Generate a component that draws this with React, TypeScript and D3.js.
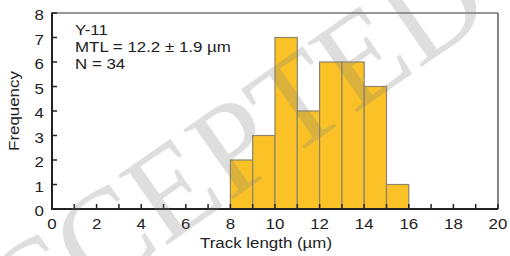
import React from "react";
import * as d3 from "d3";

const binStarts = [8, 9, 10, 11, 12, 13, 14, 15];
const counts = [2, 3, 7, 4, 6, 6, 5, 1];
const xMajorTicks = [0, 2, 4, 6, 8, 10, 12, 14, 16, 18, 20];
const xMinorTicks = d3.range(0, 21, 1);
const yTicks = [0, 1, 2, 3, 4, 5, 6, 7, 8];
const infoLines = ["Y-11", "MTL = 12.2 ± 1.9 µm", "N = 34"];

const W = 510;
const H = 256;
const margin = { top: 13, right: 12, bottom: 47, left: 52 };
const font = "'Liberation Sans', Arial, sans-serif";
const sx = 1.09; // the figure's text is a little stretched sideways

// text placed at (x, y) and stretched horizontally
const Label = ({ x, y, anchor = "start", rotate = 0, children }: any) => (
  <g transform={`translate(${x},${y}) rotate(${rotate}) scale(${sx},1)`}>
    <text textAnchor={anchor} fontSize={15.5} fill="#222">
      {children}
    </text>
  </g>
);

export default function App() {
  const x = d3
    .scaleLinear()
    .domain([0, 20])
    .range([margin.left, W - margin.right]);
  const y = d3
    .scaleLinear()
    .domain([0, 8])
    .range([H - margin.bottom, margin.top]);

  const x0 = x(0);
  const x1 = x(20);
  const y0 = y(0);
  const y1 = y(8);

  return (
    <svg
      width={W}
      height={H}
      style={{ position: "absolute", left: 0, top: 0 }}
      fontFamily={font}
    >
      <rect width={W} height={H} fill="#fff" />

      {binStarts.map((b, i) => (
        <rect
          key={b}
          x={x(b)}
          y={y(counts[i])}
          width={x(b + 1) - x(b)}
          height={y0 - y(counts[i])}
          fill="#fbc228"
          stroke="#8e8468"
          strokeWidth={1.2}
        />
      ))}

      {/* frame */}
      <line x1={x0} x2={x1} y1={y1} y2={y1} stroke="#333" strokeWidth={1.2} />
      <line x1={x1} x2={x1} y1={y1} y2={y0} stroke="#333" strokeWidth={1.2} />
      <line x1={x0} x2={x0} y1={y1 - 0.5} y2={y0 + 1} stroke="#222" strokeWidth={2} />
      <line x1={x0 - 1} x2={x1} y1={y0} y2={y0} stroke="#222" strokeWidth={2} />

      {xMinorTicks.map((t) => (
        <line
          key={t}
          x1={x(t)}
          x2={x(t)}
          y1={y0}
          y2={y0 - 5}
          stroke="#222"
          strokeWidth={1.5}
        />
      ))}
      {yTicks.map((t) => (
        <line
          key={t}
          x1={x0}
          x2={x0 + 5}
          y1={y(t)}
          y2={y(t)}
          stroke="#222"
          strokeWidth={1.5}
        />
      ))}

      {xMajorTicks.map((t) => (
        <Label key={t} x={x(t)} y={y0 + 20} anchor="middle">
          {t}
        </Label>
      ))}
      {yTicks.map((t) => (
        <Label key={t} x={x0 - 8} y={y(t) + 7} anchor="end">
          {t}
        </Label>
      ))}

      <Label x={(x0 + x1) / 2 - 9} y={H - 8} anchor="middle">
        Track length (µm)
      </Label>
      <Label x={19} y={(y0 + y1) / 2} anchor="middle" rotate={-90}>
        Frequency
      </Label>

      {infoLines.map((l, i) => (
        <Label key={l} x={75} y={35 + i * 17}>
          {l}
        </Label>
      ))}

      {/* watermark */}
      <text
        transform="translate(220,208) rotate(-35)"
        textAnchor="middle"
        fontSize={130}
        fontFamily="'Liberation Serif', 'DejaVu Serif', serif"
        fill="#808080"
        opacity={0.25}
      >
        ACCEPTED
      </text>
    </svg>
  );
}
